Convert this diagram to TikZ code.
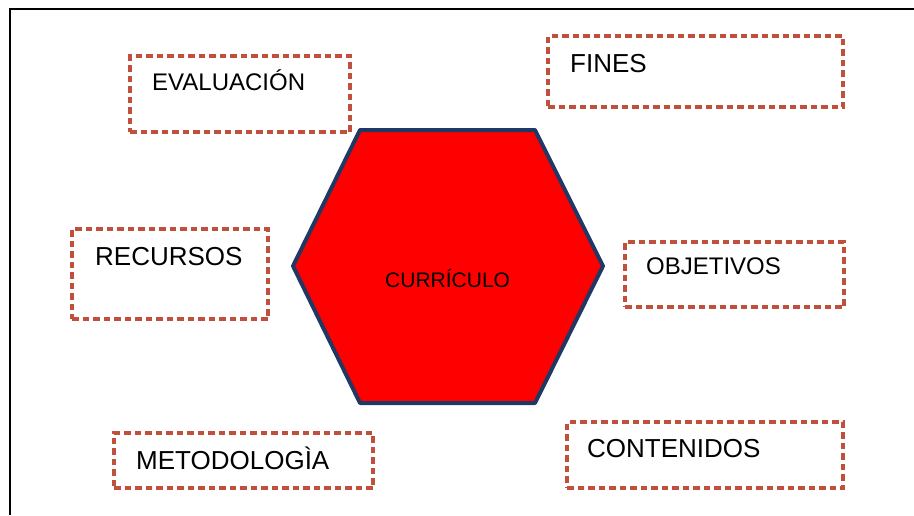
\documentclass[tikz,border=0pt]{standalone}
\usepackage{fontspec}
\setmainfont{Liberation Sans}
\definecolor{dashred}{RGB}{192,80,60}
\definecolor{hexblue}{RGB}{31,56,100}
\definecolor{hexred}{RGB}{255,0,0}
\begin{document}
\begin{tikzpicture}[x=1pt,y=-1pt,
  dbox/.style={draw=dashred, line width=3.4pt, dash pattern=on 6.5pt off 4pt, rectangle, inner sep=0pt, minimum width=#1},
  lbl/.style={anchor=base west, inner sep=0pt, font=\fontsize{26}{30}\selectfont},
  lbls/.style={anchor=base west, inner sep=0pt, font=\fontsize{24}{28}\selectfont},
  frame/.style={line width=2.6pt, black}]
\useasboundingbox (0,0) rectangle (914,515);
% frame
\coordinate (fbl) at (10,515);
\coordinate (ftl) at (10,9);
\coordinate (ftr) at (914,9);
\draw[frame] (fbl) -- (ftl) -- (ftr);
% boxes
\node[dbox=220pt, minimum height=76pt] (evalb) at (240,94) {};
\node[dbox=295pt, minimum height=71pt] (finesb) at (695.5,71.5) {};
\node[dbox=196pt, minimum height=90pt] (recb) at (170,274) {};
\node[dbox=219pt, minimum height=65pt] (objb) at (734.5,274.5) {};
\node[dbox=259pt, minimum height=55pt] (metb) at (243.5,460.5) {};
\node[dbox=276pt, minimum height=66pt] (conb) at (705,455) {};
% hexagon
\draw[fill=hexred, draw=hexblue, line width=4pt, line join=round]
  (360,130) -- (535,130) -- (603,266) -- (535,403) -- (360,403) -- (293,266) -- cycle;
% labels
\node[lbls] (evalt) at (152,90) {EVALUACIÓN};
\node[lbl] (finest) at (570,72) {FINES};
\node[lbl] (rect) at (95,265) {RECURSOS};
\node[lbls] (objt) at (646,274) {OBJETIVOS};
\node[lbl] (mett) at (136,469) {METODOLOGÌA};
\node[lbl] (cont) at (587,457) {CONTENIDOS};
\node[anchor=base west, inner sep=0pt, font=\fontsize{21}{25}\selectfont] (curt) at (385,287) {CURRÍCULO};
\end{tikzpicture}
\end{document}
